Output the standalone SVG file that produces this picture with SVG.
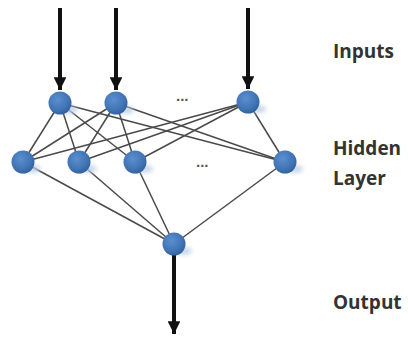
<svg xmlns="http://www.w3.org/2000/svg" width="408" height="339" viewBox="0 0 408 339">
<defs>
<radialGradient id="ball" cx="0.4" cy="0.35" r="0.7">
<stop offset="0" stop-color="#5a8fd0"/>
<stop offset="0.7" stop-color="#3f72b2"/>
<stop offset="1" stop-color="#2f5d98"/>
</radialGradient>
<filter id="blur" x="-50%" y="-50%" width="200%" height="200%"><feGaussianBlur stdDeviation="2"/></filter>
<marker id="ah" viewBox="0 0 10 10" refX="10" refY="5" markerWidth="3.2" markerHeight="3.2" orient="auto" markerUnits="strokeWidth">
<path d="M0,0 L10,5 L0,10 z" fill="#111"/>
</marker>
</defs>
<style>
.lbl{font-family:"Open Sans","Liberation Sans",sans-serif;font-weight:bold;font-size:19px;fill:#333}
.dots{font-family:"Liberation Sans",sans-serif;font-weight:bold;font-size:15px;fill:#555}
.edge{stroke:#4a4a4a;stroke-width:1.5;fill:none}
.arrow{stroke:#111;stroke-width:4;fill:none}
.shadow{fill:#b9cde8;filter:url(#blur);opacity:0.8}
.node{fill:url(#ball)}
</style>
<rect width="408" height="339" fill="#fff"/>
<g id="connectors">
<line class="edge" x1="60" y1="103" x2="23" y2="162"/>
<line class="edge" x1="60" y1="103" x2="79" y2="162"/>
<line class="edge" x1="60" y1="103" x2="135" y2="162"/>
<line class="edge" x1="60" y1="103" x2="285" y2="162"/>
<line class="edge" x1="116" y1="103" x2="23" y2="162"/>
<line class="edge" x1="116" y1="103" x2="79" y2="162"/>
<line class="edge" x1="116" y1="103" x2="135" y2="162"/>
<line class="edge" x1="116" y1="103" x2="285" y2="162"/>
<line class="edge" x1="248" y1="102" x2="23" y2="162"/>
<line class="edge" x1="248" y1="102" x2="79" y2="162"/>
<line class="edge" x1="248" y1="102" x2="135" y2="162"/>
<line class="edge" x1="248" y1="102" x2="285" y2="162"/>
<line class="edge" x1="23" y1="162" x2="174" y2="244"/>
<line class="edge" x1="79" y1="162" x2="174" y2="244"/>
<line class="edge" x1="135" y1="162" x2="174" y2="244"/>
<line class="edge" x1="285" y1="162" x2="174" y2="244"/>
<line class="arrow" x1="60" y1="8" x2="60" y2="90" marker-end="url(#ah)"/>
<line class="arrow" x1="116" y1="8" x2="116" y2="90" marker-end="url(#ah)"/>
<line class="arrow" x1="248" y1="8" x2="248" y2="89" marker-end="url(#ah)"/>
<line class="arrow" x1="174" y1="255" x2="174" y2="334" marker-end="url(#ah)"/>
</g>
<g id="in1"><ellipse class="shadow" cx="70" cy="110" rx="8" ry="4"/><circle class="node" cx="60" cy="103" r="11.5"/></g>
<g id="in2"><ellipse class="shadow" cx="126" cy="110" rx="8" ry="4"/><circle class="node" cx="116" cy="103" r="11.5"/></g>
<g id="in3"><ellipse class="shadow" cx="258" cy="109" rx="8" ry="4"/><circle class="node" cx="248" cy="102" r="11.5"/></g>
<g id="h1"><ellipse class="shadow" cx="33" cy="169" rx="8" ry="4"/><circle class="node" cx="23" cy="162" r="11.5"/></g>
<g id="h2"><ellipse class="shadow" cx="89" cy="169" rx="8" ry="4"/><circle class="node" cx="79" cy="162" r="11.5"/></g>
<g id="h3"><ellipse class="shadow" cx="145" cy="169" rx="8" ry="4"/><circle class="node" cx="135" cy="162" r="11.5"/></g>
<g id="h4"><ellipse class="shadow" cx="295" cy="169" rx="8" ry="4"/><circle class="node" cx="285" cy="162" r="11.5"/></g>
<g id="out"><ellipse class="shadow" cx="184" cy="251" rx="8" ry="4"/><circle class="node" cx="174" cy="244" r="11.5"/></g>
<text class="dots" x="176" y="101">...</text>
<text class="dots" x="196" y="167">...</text>
<text class="lbl" x="333" y="58">Inputs</text>
<text class="lbl" x="333" y="155">Hidden</text>
<text class="lbl" x="333" y="185">Layer</text>
<text class="lbl" x="333" y="309">Output</text>
</svg>
